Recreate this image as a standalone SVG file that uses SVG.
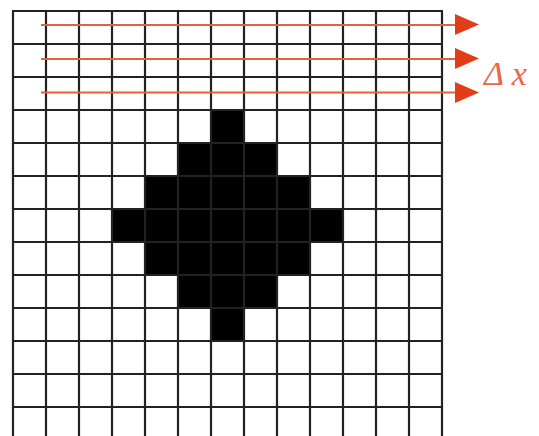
<svg xmlns="http://www.w3.org/2000/svg" width="539" height="436" viewBox="0 0 539 436">
<defs>
<style>
.cell{fill:#000}
.grid line{stroke:#222;stroke-width:2.2}
.arrow{stroke:#e5603c;stroke-width:2.2;fill:none}
.head{fill:#e23d16}
.lbl{font-family:"Liberation Serif",serif;font-style:italic;font-size:34px;fill:#e8664a}
</style>
</defs>
<rect width="539" height="436" fill="#fff"/>
<g id="shape">
<rect class="cell" x="211" y="110" width="33" height="33"/>
<rect class="cell" x="178" y="143" width="99" height="33"/>
<rect class="cell" x="145" y="176" width="165" height="33"/>
<rect class="cell" x="112" y="209" width="231" height="33"/>
<rect class="cell" x="145" y="242" width="165" height="33"/>
<rect class="cell" x="178" y="275" width="99" height="33"/>
<rect class="cell" x="211" y="308" width="33" height="33"/>
</g>
<g id="grid" class="grid">
<line x1="13" y1="11" x2="13" y2="436"/>
<line x1="46" y1="11" x2="46" y2="436"/>
<line x1="79" y1="11" x2="79" y2="436"/>
<line x1="112" y1="11" x2="112" y2="436"/>
<line x1="145" y1="11" x2="145" y2="436"/>
<line x1="178" y1="11" x2="178" y2="436"/>
<line x1="211" y1="11" x2="211" y2="436"/>
<line x1="244" y1="11" x2="244" y2="436"/>
<line x1="277" y1="11" x2="277" y2="436"/>
<line x1="310" y1="11" x2="310" y2="436"/>
<line x1="343" y1="11" x2="343" y2="436"/>
<line x1="376" y1="11" x2="376" y2="436"/>
<line x1="409" y1="11" x2="409" y2="436"/>
<line x1="442" y1="11" x2="442" y2="436"/>
<line x1="12" y1="11" x2="443" y2="11"/>
<line x1="12" y1="44" x2="443" y2="44"/>
<line x1="12" y1="77" x2="443" y2="77"/>
<line x1="12" y1="110" x2="443" y2="110"/>
<line x1="12" y1="143" x2="443" y2="143"/>
<line x1="12" y1="176" x2="443" y2="176"/>
<line x1="12" y1="209" x2="443" y2="209"/>
<line x1="12" y1="242" x2="443" y2="242"/>
<line x1="12" y1="275" x2="443" y2="275"/>
<line x1="12" y1="308" x2="443" y2="308"/>
<line x1="12" y1="341" x2="443" y2="341"/>
<line x1="12" y1="374" x2="443" y2="374"/>
<line x1="12" y1="407" x2="443" y2="407"/>
</g>
<g id="connectors">
<line class="arrow" x1="41" y1="25" x2="456" y2="25"/>
<polygon class="head" points="455,14 479,24.5 455,35"/>
<line class="arrow" x1="41" y1="59" x2="456" y2="59"/>
<polygon class="head" points="455,48 479,58.5 455,69"/>
<line class="arrow" x1="41" y1="92.5" x2="456" y2="92.5"/>
<polygon class="head" points="455,82 479,92.5 455,103"/>
</g>
<g id="label">
<text class="lbl" x="484" y="85">Δ x</text>
</g>
</svg>
